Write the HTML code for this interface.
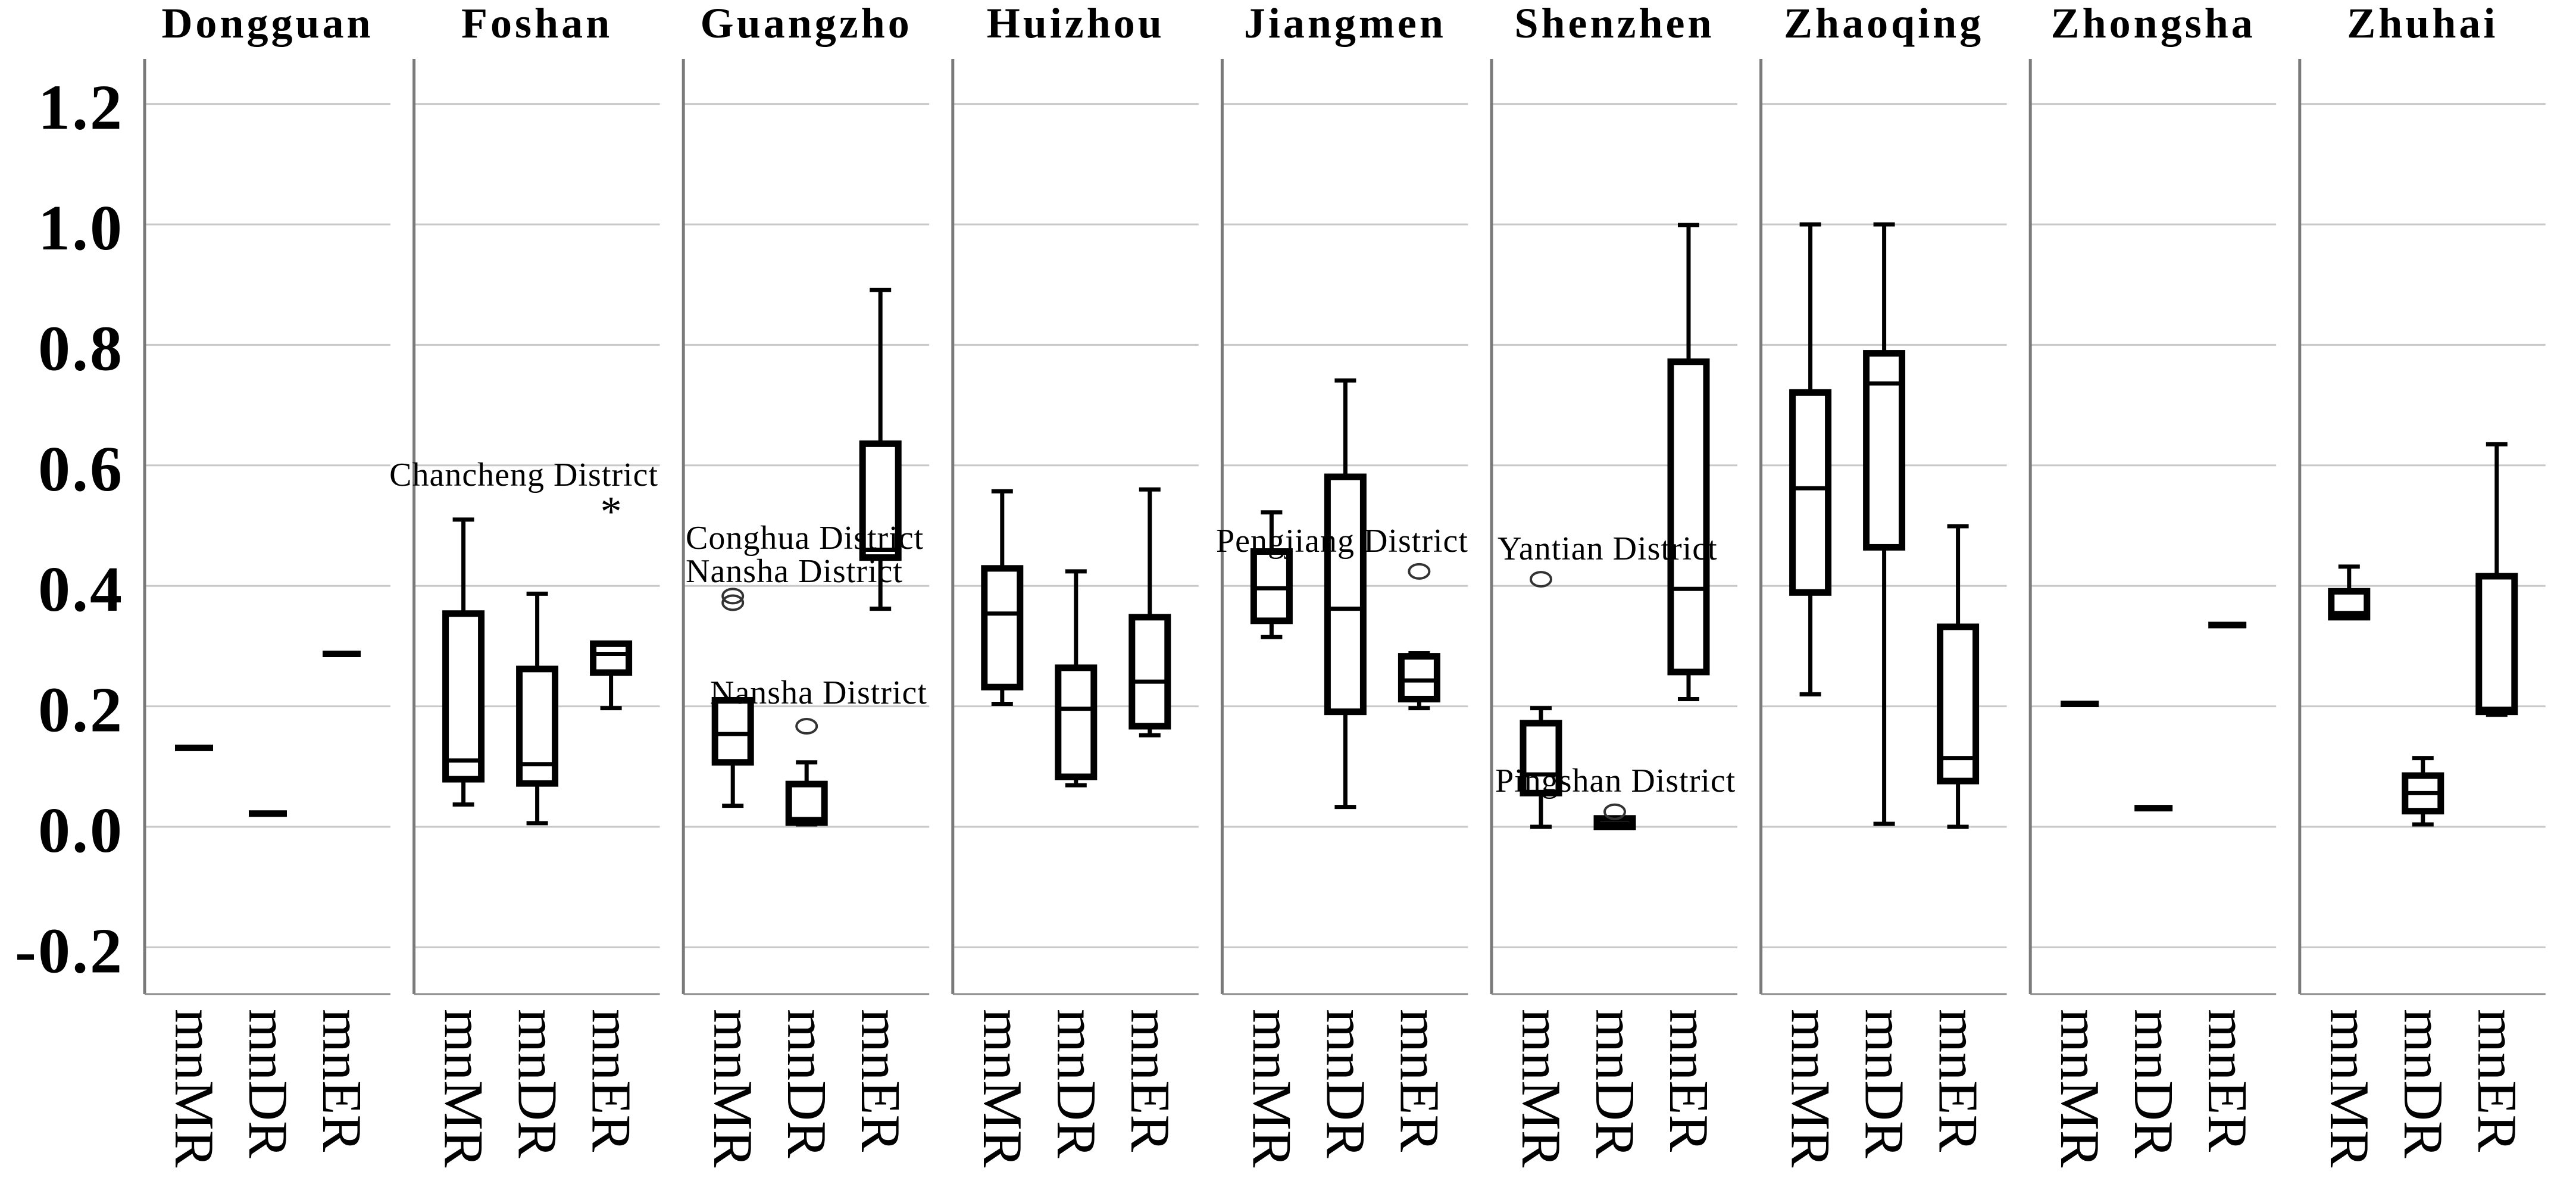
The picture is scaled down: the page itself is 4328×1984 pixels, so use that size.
<!DOCTYPE html>
<html><head><meta charset="utf-8"><style>
html,body{margin:0;padding:0;background:#fff;}
svg{display:block;}
text{font-family:"Liberation Serif",serif;}
</style></head><body>
<svg id="chart" width="4328" height="1984" viewBox="0 0 4328 1984" xmlns="http://www.w3.org/2000/svg">
<g id="grid"></g><g id="marks"></g><g id="labels"></g>
<g font-size="56" fill="#000" letter-spacing="1">
<text x="1106" y="816" text-anchor="end">Chancheng District</text>
<text x="1152" y="922">Conghua District</text>
<text x="1152" y="978">Nansha District</text>
<text x="1193" y="1182">Nansha District</text>
<text x="2043" y="927">Pengjiang District</text>
<text x="2516" y="940">Yantian District</text>
<text x="2512" y="1330">Pingshan District</text>
</g>
</svg>
<script>
const cities = ["Dongguan","Foshan","Guangzho","Huizhou","Jiangmen","Shenzhen","Zhaoqing","Zhongsha","Zhuhai"];
const variables = ["mnMR","mnDR","mnER"];
const yTicks = [1.2,1.0,0.8,0.6,0.4,0.2,0.0,-0.2];
const yTickLabels = ["1.2","1.0","0.8","0.6","0.4","0.2","0.0","-0.2"];
const mins = [[0.131,0.022,0.287],[0.037,0.006,0.197],[0.035,0.004,0.362],[0.204,0.069,0.152],[0.315,0.033,0.197],[0.0,0.0,0.212],[0.22,0.005,0.0],[0.204,0.031,0.335],[0.348,0.004,0.186]];
const q1s = [[0.131,0.022,0.287],[0.079,0.072,0.256],[0.107,0.007,0.447],[0.232,0.083,0.167],[0.342,0.191,0.212],[0.056,0.0,0.257],[0.389,0.464,0.076],[0.204,0.031,0.335],[0.348,0.026,0.191]];
const medians = [[0.131,0.022,0.287],[0.11,0.104,0.287],[0.154,0.013,0.46],[0.354,0.196,0.241],[0.396,0.362,0.243],[0.087,0.005,0.395],[0.562,0.736,0.114],[0.204,0.031,0.335],[0.355,0.056,0.196]];
const q3s = [[0.131,0.022,0.287],[0.354,0.262,0.304],[0.21,0.071,0.636],[0.429,0.264,0.348],[0.457,0.581,0.283],[0.172,0.014,0.772],[0.721,0.786,0.332],[0.204,0.031,0.335],[0.391,0.085,0.416]];
const maxs = [[0.131,0.022,0.287],[0.51,0.387,0.304],[0.21,0.107,0.891],[0.557,0.424,0.56],[0.522,0.741,0.288],[0.197,0.014,0.999],[1.0,1.0,0.499],[0.204,0.031,0.335],[0.432,0.114,0.635]];
const outlierCity = [1,2,2,2,4,5,5];
const outlierVar = [2,0,0,1,2,0,1];
const outlierValue = [0.529,0.372,0.383,0.167,0.424,0.411,0.025];
const outlierType = ["star","circle","circle","circle","circle","circle","circle"];

const NS="http://www.w3.org/2000/svg";
const Y0=1389, PXU=1012;
function yScale(v){return Y0 - v*PXU;}
function panelX(i){return 243 + i*452.6;}
function catX(i,j){return panelX(i) + 83 + 124*j;}
function mk(tag,attrs,parent){const e=document.createElementNS(NS,tag);for(const k in attrs)e.setAttribute(k,attrs[k]);parent.appendChild(e);return e;}
const grid=document.getElementById('grid'), marks=document.getElementById('marks'), labels=document.getElementById('labels');
const PW=413, TOP=99, BOT=1670;

yTicks.forEach((t,k)=>{
  const tl=mk('text',{x:208,y:yScale(t)+42,'text-anchor':'end','font-size':108,'font-weight':'bold','letter-spacing':3},labels);
  tl.textContent=yTickLabels[k];
  
  
});

cities.forEach((c,i)=>{
  const px=panelX(i);
  yTicks.forEach(t=>{
    const g=mk('line',{x1:px,x2:px+PW,y1:yScale(t),y2:yScale(t),stroke:'#c8c8c8','stroke-width':3},grid);
    
    
  });
  const ax=mk('line',{x1:px,x2:px,y1:TOP,y2:BOT,stroke:'#7a7a7a','stroke-width':5},grid);
  
  
  const bx=mk('line',{x1:px,x2:px+PW,y1:BOT,y2:BOT,stroke:'#8a8a8a','stroke-width':3},grid);
  
  
  const title=mk('text',{x:px+PW/2,y:63,'text-anchor':'middle','font-size':72,'font-weight':'bold','letter-spacing':5},labels);
  title.textContent=c;
  
  
  variables.forEach((v,j)=>{
    const cx=catX(i,j);
    const xl=mk('text',{x:0,y:0,'font-size':94,transform:`translate(${cx-31},1695) rotate(90)`},labels);
    xl.textContent=v;
    
    
    const g=mk('g',{},marks);
    
    
    const mn=mins[i][j],a=q1s[i][j],m=medians[i][j],b=q3s[i][j],mx=maxs[i][j];
    if(Math.abs(b-a)<0.003 && Math.abs(mx-mn)<0.003){
      mk('line',{x1:cx-32,x2:cx+32,y1:yScale(m),y2:yScale(m),stroke:'#000','stroke-width':11},g);
      return;
    }
    if(mx>b) mk('line',{x1:cx,x2:cx,y1:yScale(mx),y2:yScale(b),stroke:'#000','stroke-width':7},g);
    if(mn<a) mk('line',{x1:cx,x2:cx,y1:yScale(a),y2:yScale(mn),stroke:'#000','stroke-width':7},g);
    mk('line',{x1:cx-18,x2:cx+18,y1:yScale(mx),y2:yScale(mx),stroke:'#000','stroke-width':7},g);
    mk('line',{x1:cx-18,x2:cx+18,y1:yScale(mn),y2:yScale(mn),stroke:'#000','stroke-width':7},g);
    const h=Math.max(yScale(a)-yScale(b),1);
    mk('rect',{x:cx-30,y:yScale(b),width:60,height:h,fill:'#fff',stroke:'#000','stroke-width':11},g);
    mk('line',{x1:cx-30,x2:cx+30,y1:yScale(m),y2:yScale(m),stroke:'#000','stroke-width':7},g);
  });
});

outlierValue.forEach((val,k)=>{
  const cx=catX(outlierCity[k],outlierVar[k]), cy=yScale(val);
  if(outlierType[k]==='star'){
    const s=mk('text',{x:cx,y:cy+30,'text-anchor':'middle','font-size':72},marks);
    s.textContent='*';
    
    
  } else {
    const e=mk('ellipse',{cx:cx,cy:cy,rx:17,ry:12,fill:'none',stroke:'#333','stroke-width':4},marks);
    
    
  }
});
</script>
</body></html>
